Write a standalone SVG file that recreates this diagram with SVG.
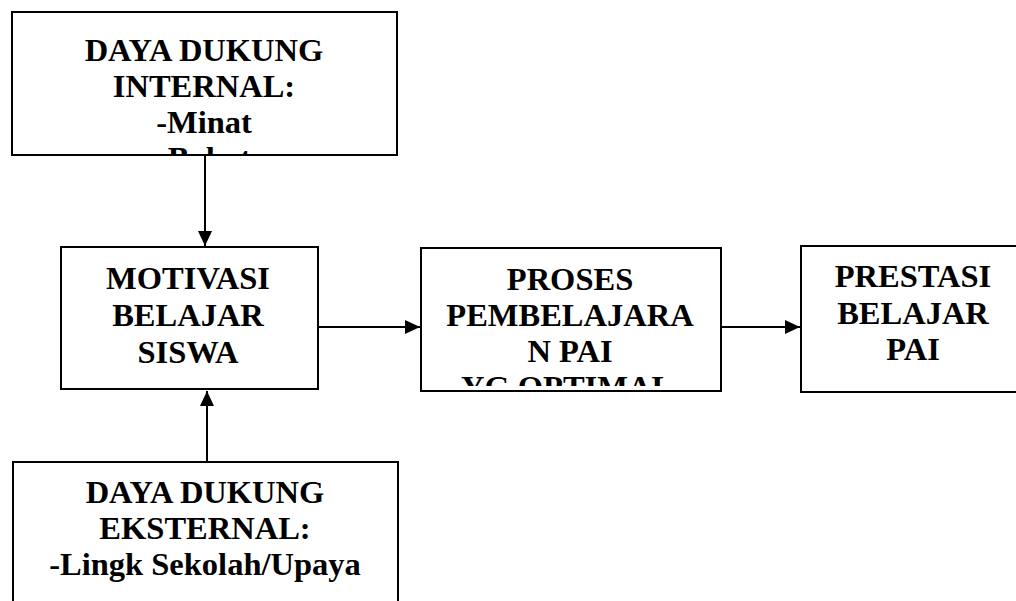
<svg xmlns="http://www.w3.org/2000/svg" width="1016" height="601" viewBox="0 0 1016 601">
<style>
.box{fill:#fff;stroke:#000;stroke-width:2}
.t{font-family:"Liberation Serif","Times New Roman",serif;font-weight:bold;font-size:32.5px;fill:#000;text-anchor:middle}
.c{stroke:#000;stroke-width:2;fill:none}
</style>
<defs>
<marker id="ah" viewBox="0 0 15 14" refX="15" refY="7" markerWidth="15" markerHeight="14" markerUnits="userSpaceOnUse" orient="auto">
<path d="M0,0 L15,7 L0,14 Z" fill="#000"/>
</marker>
<clipPath id="clipTop"><rect x="13" y="13" width="383" height="141"/></clipPath>
<clipPath id="clipProses"><rect x="422" y="249" width="298" height="137"/></clipPath>
</defs>
<rect width="1016" height="601" fill="#fff"/>
<g id="internal">
<rect class="box" x="12" y="12" width="385" height="143"/>
<g clip-path="url(#clipTop)">
<text class="t" x="204" y="61">DAYA DUKUNG</text>
<text class="t" x="204" y="97">INTERNAL:</text>
<text class="t" x="204" y="133">-Minat</text>
<text class="t" x="204" y="169">-Bakat</text>
</g>
</g>
<g id="motivasi">
<rect class="box" x="61" y="247" width="257" height="142"/>
<text class="t" x="188" y="289">MOTIVASI</text>
<text class="t" x="188" y="326">BELAJAR</text>
<text class="t" x="188" y="363">SISWA</text>
</g>
<g id="proses">
<rect class="box" x="421" y="248" width="300" height="143"/>
<g clip-path="url(#clipProses)">
<text class="t" x="570" y="290">PROSES</text>
<text class="t" x="570" y="326">PEMBELAJARA</text>
<text class="t" x="570" y="362">N PAI</text>
<text class="t" x="567" y="398">YG OPTIMAL</text>
</g>
</g>
<g id="prestasi">
<rect class="box" x="801" y="246" width="220" height="146"/>
<text class="t" x="913" y="287">PRESTASI</text>
<text class="t" x="913" y="324">BELAJAR</text>
<text class="t" x="913" y="360">PAI</text>
</g>
<g id="eksternal">
<rect class="box" x="13" y="462" width="385" height="150"/>
<text class="t" x="205" y="503">DAYA DUKUNG</text>
<text class="t" x="205" y="539">EKSTERNAL:</text>
<text class="t" x="205" y="575">-Lingk Sekolah/Upaya</text>
</g>
<g id="connectors">
<line class="c" x1="205" y1="155" x2="205" y2="246" marker-end="url(#ah)"/>
<line class="c" x1="207" y1="462" x2="207" y2="391" marker-end="url(#ah)"/>
<line class="c" x1="318" y1="327" x2="420" y2="327" marker-end="url(#ah)"/>
<line class="c" x1="721" y1="327" x2="800" y2="327" marker-end="url(#ah)"/>
</g>
</svg>
